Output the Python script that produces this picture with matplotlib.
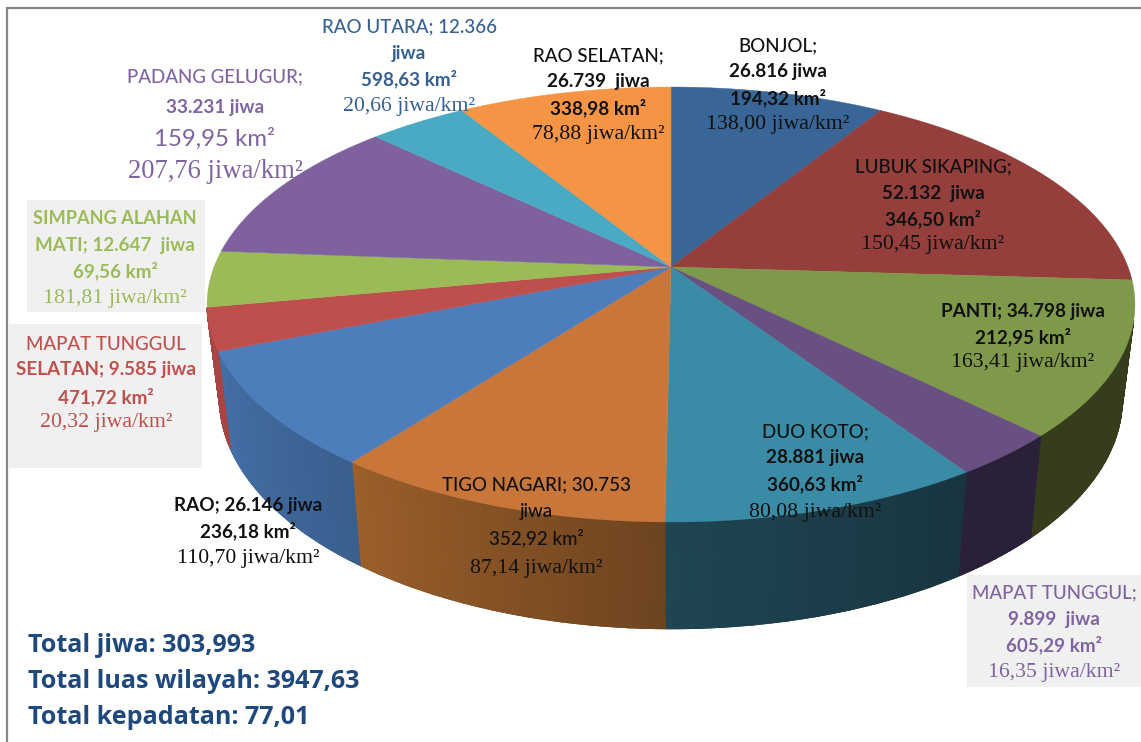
import matplotlib
matplotlib.use("Agg")
import matplotlib.pyplot as plt
from matplotlib.colors import LinearSegmentedColormap
from matplotlib.patches import Polygon, Rectangle
import numpy as np

# population per kecamatan, clockwise from the top
names = ["BONJOL", "LUBUK SIKAPING", "PANTI", "MAPAT TUNGGUL", "DUO KOTO", "TIGO NAGARI",
         "RAO", "MAPAT TUNGGUL SELATAN", "SIMPANG ALAHAN MATI", "PADANG GELUGUR",
         "RAO UTARA", "RAO SELATAN"]
jiwa = [26816, 52132, 34798, 9899, 28881, 30753, 26146, 9585, 12647, 33231, 12366, 26739]
top_colors = ["#3a6597", "#953f3d", "#7f994b", "#695082", "#3a8ba5", "#c8763a",
              "#4d7dbb", "#bd4f4d", "#9bbb59", "#7f619e", "#4aa9c3", "#f69445"]
# side wall shade, at the right and the left end of each slice
wall_right = ["#2c4a6e", "#6e2e2c", "#353d1c", "#2a2138", "#183540", "#6e4420",
              "#3a5f8f", "#a84442", "#9bbb59", "#7f619e", "#4aa9c3", "#f69445"]
wall_left = ["#2c4a6e", "#6e2e2c", "#353d1c", "#2a2138", "#1f4653", "#9c5f2a",
             "#4470a6", "#a84442", "#9bbb59", "#7f619e", "#4aa9c3", "#f69445"]

BLACK = "#111111"
BLUE = "#376092"
PURPLE = "#8064a2"
GREEN = "#9bbb59"
RED = "#c0504d"
SANS = "Lato"
SERIF = "Liberation Serif"
N, S, T = 13.5, 13.6, 15.7

# x centre, colour, then (text, y, family, weight, size) per line
labels = [
    (778, BLACK, [("BONJOL;", 46, SANS, "medium", N), ("26.816 jiwa", 72, SANS, "bold", S),
                  ("194,32 km²", 98, SANS, "bold", S), ("138,00 jiwa/km²", 124, SERIF, "normal", T)]),
    (933, BLACK, [("LUBUK SIKAPING;", 167, SANS, "medium", N), ("52.132  jiwa", 193, SANS, "bold", S),
                  ("346,50 km²", 219, SANS, "bold", S), ("150,45 jiwa/km²", 245, SERIF, "normal", T)]),
    (1023, BLACK, [("PANTI; 34.798 jiwa", 312, SANS, "bold", S), ("212,95 km²", 337, SANS, "bold", S),
                   ("163,41 jiwa/km²", 363, SERIF, "normal", T)]),
    (1054, PURPLE, [("MAPAT TUNGGUL;", 593, SANS, "medium", N), ("9.899  jiwa", 619, SANS, "bold", S),
                    ("605,29 km²", 645, SANS, "bold", S), ("16,35 jiwa/km²", 672, SERIF, "normal", T)]),
    (815, BLACK, [("DUO KOTO;", 432, SANS, "medium", N), ("28.881 jiwa", 458, SANS, "bold", S),
                  ("360,63 km²", 484, SANS, "bold", S), ("80,08 jiwa/km²", 512, SERIF, "normal", T)]),
    (536, BLACK, [("TIGO NAGARI; 30.753", 485, SANS, "medium", N), ("jiwa", 511, SANS, "medium", N),
                  ("352,92 km²", 538, SANS, "medium", N), ("87,14 jiwa/km²", 569, SERIF, "normal", T)]),
    (248, BLACK, [("RAO; 26.146 jiwa", 505, SANS, "bold", S), ("236,18 km²", 531, SANS, "bold", S),
                  ("110,70 jiwa/km²", 559, SERIF, "normal", T)]),
    (106, RED, [("MAPAT TUNGGUL", 344, SANS, "medium", N), ("SELATAN; 9.585 jiwa", 370, SANS, "bold", S),
                ("471,72 km²", 397, SANS, "bold", S), ("20,32 jiwa/km²", 423, SERIF, "normal", T)]),
    (115, GREEN, [("SIMPANG ALAHAN", 219, SANS, "bold", 13.1), ("MATI; 12.647  jiwa", 245, SANS, "bold", S),
                  ("69,56 km²", 271, SANS, "bold", S), ("181,81 jiwa/km²", 298, SERIF, "normal", T)]),
    (215, PURPLE, [("PADANG GELUGUR;", 77, SANS, "medium", N), ("33.231 jiwa", 108, SANS, "bold", S),
                   ("159,95 km²", 139, SANS, "normal", 17.3), ("207,76 jiwa/km²", 172, SERIF, "normal", 19.2)]),
    (409, BLUE, [("RAO UTARA; 12.366", 27, SANS, "medium", N), ("jiwa", 53, SANS, "bold", S),
                 ("598,63 km²", 79, SANS, "bold", S), ("20,66 jiwa/km²", 106, SERIF, "normal", T)]),
    (598, BLACK, [("RAO SELATAN;", 56, SANS, "medium", N), ("26.739  jiwa", 82, SANS, "bold", S),
                  ("338,98 km²", 108, SANS, "bold", S), ("78,88 jiwa/km²", 135, SERIF, "normal", T)]),
]
total_labels = ["Total jiwa: 303,993", "Total luas wilayah: 3947,63", "Total kepadatan: 77,01"]

# projection of the tilted disc onto the picture
CX, CY = 671, 267
A, B, K = 457, 211, 0.1724
WALL_SX, WALL_SY, WALL_DROP = 0.973, 1.058, 92


def top_edge(deg):
    t = np.radians(deg)
    u, v = np.sin(t), np.cos(t)
    d = 1 + K * v
    return CX + A * u / d, CY - B * v / d


def bottom_edge(deg):
    x, y = top_edge(deg)
    return CX + (x - CX) * WALL_SX, CY + (y - CY) * WALL_SY + WALL_DROP


fig = plt.figure(figsize=(11.41, 7.42), dpi=100)
ax = fig.add_axes([0, 0, 1, 1])
ax.set_xlim(0, 1141)
ax.set_ylim(742, 0)
ax.axis("off")

# frame, open at the bottom
ax.plot([7, 7, 1141], [742, 8, 8], color="#868686", lw=1.6, zorder=1, solid_joinstyle="miter")

for x, y, w, h in [(27, 200, 178, 112), (9, 324, 193, 144), (967, 575, 174, 112)]:
    ax.add_patch(Rectangle((x, y), w, h, fc="#f0f0f0", ec="none", zorder=1))

edges = np.concatenate([[0], np.cumsum(jiwa)]) / sum(jiwa) * 360

# side wall, only the front part shows
for i in range(len(jiwa)):
    a0, a1 = max(edges[i], 104), min(edges[i + 1], edges[8])
    if a1 <= a0:
        continue
    grid = np.linspace(a0, a1, 60)
    tx, ty = top_edge(grid)
    bx, by = bottom_edge(grid)
    cmap = LinearSegmentedColormap.from_list("wall", [wall_right[i], wall_left[i]])
    frac = np.linspace(0, 1, 60)
    ax.pcolormesh(np.array([tx, bx]), np.array([ty, by]), np.array([frac, frac]),
                  shading="gouraud", cmap=cmap, vmin=0, vmax=1, zorder=2)
    # soft lower rim, the mesh itself has hard edges
    for j in range(0, 59, 6):
        k = min(j + 7, 59)
        ax.plot(bx[j:k + 1], by[j:k + 1], color=cmap(frac[j]), lw=0.7, zorder=2)

# top face
for i in range(len(jiwa)):
    grid = np.arange(edges[i], edges[i + 1], 0.5).tolist() + [edges[i + 1]]
    pts = [(CX, CY)] + [top_edge(a) for a in grid]
    ax.add_patch(Polygon(pts, closed=True, fc=top_colors[i], ec=top_colors[i], lw=0.3, zorder=3))

for xc, col, lines in labels:
    for txt, y, fam, weight, size in lines:
        ax.text(xc, y, txt, color=col, family=fam, weight=weight, fontsize=size,
                ha="center", va="center", zorder=5)

for txt, y in zip(total_labels, [645, 681, 717]):
    ax.text(28, y, txt, color="#1f497d", family="Open Sans", weight="bold", fontsize=18.1,
            ha="left", va="center", zorder=5)

fig.savefig("out.png", dpi=100)
